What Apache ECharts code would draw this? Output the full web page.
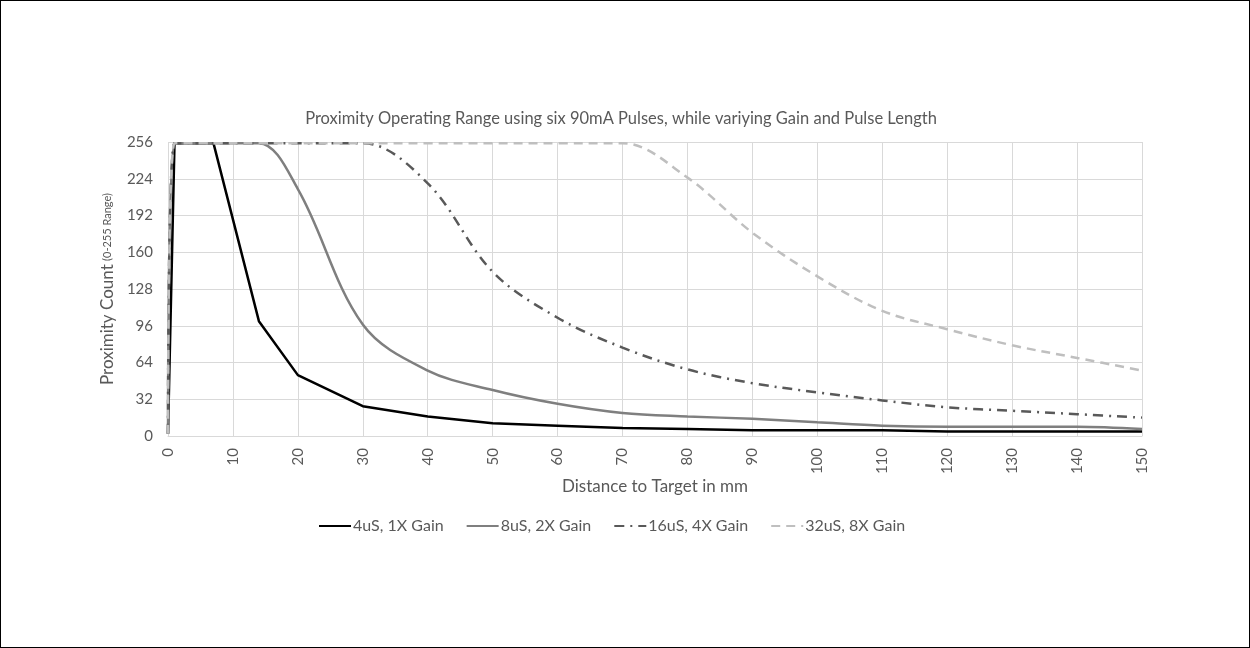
<!DOCTYPE html>
<html>
<head>
<meta charset="utf-8">
<script src="https://cdn.jsdelivr.net/npm/echarts@6/dist/echarts.min.js"></script>
<style>
  html, body { margin: 0; padding: 0; background: #fff; }
  #frame { width: 1250px; height: 648px; box-sizing: border-box; border: 1px solid #000; }
  #chart { width: 100%; height: 100%; }
</style>
</head>
<body>
<div id="frame"><div id="chart"></div></div>
<script>
// distance to target (mm), shared by all four series
const distance = [0, 1, 7, 14, 20, 30, 40, 50, 60, 70, 80, 90, 100, 110, 120, 130, 140, 150];

const count4us = [2, 255, 255, 100, 53, 26, 17, 11, 9, 7, 6, 5, 5, 5, 4, 4, 4, 4];
const count8us = [2, 255, 255, 255, 215, 97, 57, 40, 28, 20, 17, 15, 12, 9, 8, 8, 8, 6];
const count16us = [2, 255, 255, 255, 255, 255, 220, 143, 103, 77, 58, 46, 38, 31, 25, 22, 19, 16];
const count32us = [2, 255, 255, 255, 255, 255, 255, 255, 255, 255, 225, 177, 139, 109, 93, 79, 68, 57];

const seriesNames = ['4uS, 1X Gain', '8uS, 2X Gain', '16uS, 4X Gain', '32uS, 8X Gain'];

const pairs = (ys) => distance.map((d, i) => [d, ys[i]]);

const chart = echarts.init(document.getElementById('chart'));
const font = 'Lato, "Open Sans", sans-serif';
const textGrey = '#595959';
const gridGrey = '#d9d9d9';

chart.setOption({
  animation: false,
  title: {
    text: 'Proximity Operating Range using six 90mA Pulses, while variying Gain and Pulse Length',
    left: 615,
    top: 104,
    textAlign: 'center',
    textStyle: { fontFamily: font, fontSize: 16.5, fontWeight: 'normal', color: textGrey }
  },
  legend: {
    left: 312,
    top: 512,
    itemWidth: 32,
    itemHeight: 14,
    itemGap: 22,
    itemStyle: { opacity: 0 },
    textStyle: { fontFamily: font, fontSize: 16, color: textGrey, padding: [0, 0, 0, -3] },
    data: seriesNames
  },
  grid: { left: 167, right: 107, top: 141, bottom: 211, containLabel: false },
  xAxis: {
    type: 'value',
    min: 0,
    max: 150,
    interval: 10,
    name: 'Distance to Target in mm',
    nameLocation: 'middle',
    nameGap: 41,
    nameTextStyle: { fontFamily: font, fontSize: 17, color: textGrey },
    axisLine: { show: true, lineStyle: { color: gridGrey, width: 1 } },
    axisTick: { show: false },
    axisLabel: { rotate: 90, margin: 12, fontFamily: font, fontSize: 15, color: textGrey },
    splitLine: { show: true, lineStyle: { color: gridGrey, width: 1 } }
  },
  yAxis: {
    type: 'value',
    min: 0,
    max: 256,
    interval: 32,
    name: '{a|Proximity Count} {b|(0-255 Range)}',
    nameLocation: 'middle',
    nameGap: 44,
    nameTextStyle: {
      rich: {
        a: { fontFamily: font, fontSize: 17, color: textGrey },
        b: { fontFamily: font, fontSize: 11, color: textGrey }
      }
    },
    axisLine: { show: false },
    axisTick: { show: false },
    axisLabel: { margin: 15, fontFamily: font, fontSize: 15, color: textGrey },
    splitLine: { show: true, lineStyle: { color: gridGrey, width: 1 } }
  },
  series: [
    {
      name: seriesNames[0],
      type: 'line',
      symbol: 'none',
      data: pairs(count4us),
      lineStyle: { color: '#000000', width: 2.5 },
      itemStyle: { color: '#000000' }
    },
    {
      name: seriesNames[1],
      type: 'line',
      symbol: 'none',
      smooth: 0.35,
      data: pairs(count8us),
      lineStyle: { color: '#7f7f7f', width: 2.5 },
      itemStyle: { color: '#7f7f7f' }
    },
    {
      name: seriesNames[2],
      type: 'line',
      symbol: 'none',
      smooth: 0.35,
      data: pairs(count16us),
      lineStyle: { color: '#595959', width: 2.5, type: [10, 6, 2, 6] },
      itemStyle: { color: '#595959' }
    },
    {
      name: seriesNames[3],
      type: 'line',
      symbol: 'none',
      smooth: 0.35,
      data: pairs(count32us),
      lineStyle: { color: '#bfbfbf', width: 2.5, type: [9, 6] },
      itemStyle: { color: '#bfbfbf' }
    }
  ]
});
</script>
</body>
</html>
